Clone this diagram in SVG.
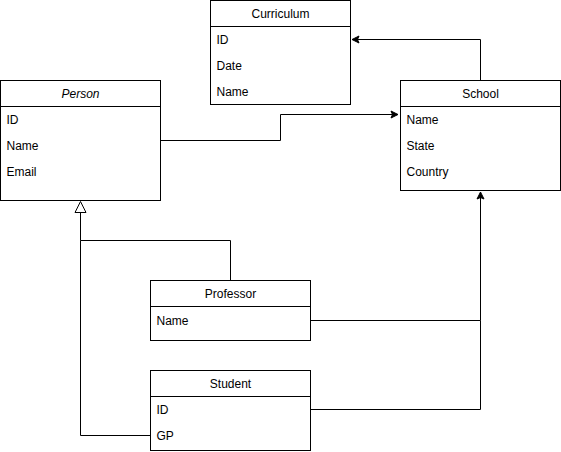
<svg xmlns="http://www.w3.org/2000/svg" width="561" height="452" viewBox="0 0 561 452">
<style>
.box{fill:#fff;stroke:#000;stroke-width:1}
.sep{stroke:#000;stroke-width:1}
.t{font-family:"Liberation Sans",Arial,sans-serif;font-size:12px;fill:#000}
.h{text-anchor:middle}
.i{font-style:italic}
.e{fill:none;stroke:#000;stroke-width:1}
</style>
<defs>
<marker id="arr" markerUnits="userSpaceOnUse" markerWidth="10" markerHeight="10" viewBox="-8 -5 10 10" refX="0" refY="0" orient="auto">
<path d="M0,0 L-7,-3.5 L-5.5,0 L-7,3.5 Z" fill="#000" stroke="#000" stroke-width="1"/>
</marker>
</defs>
<g id="connectors">
<path class="e" d="M160.5,140.5 H280.5 V114.5 H398" marker-end="url(#arr)"/>
<path class="e" d="M480.5,80.5 V39.5 H352" marker-end="url(#arr)"/>
<path class="e" d="M230.5,280.5 V240.5 H80.5 V212.5"/>
<path class="e" d="M150.5,435.5 H80.5 V240.5"/>
<polygon points="80.5,201.5 75,212.5 86,212.5" fill="#fff" stroke="#000" stroke-width="1"/>
<path class="e" d="M310.5,320.5 H480.5 V192" marker-end="url(#arr)"/>
<path class="e" d="M310.5,409.5 H480.5 V320.5"/>
</g>
<g id="curriculum">
<rect class="box" x="210.5" y="0.5" width="140" height="104"/>
<line class="sep" x1="210.5" y1="26.5" x2="350.5" y2="26.5"/>
<text class="t h" x="280.5" y="17.5">Curriculum</text>
<text class="t" x="216.5" y="44">ID</text>
<text class="t" x="216.5" y="70">Date</text>
<text class="t" x="216.5" y="96">Name</text>
</g>
<g id="person">
<rect class="box" x="0.5" y="80.5" width="160" height="120"/>
<line class="sep" x1="0.5" y1="106.5" x2="160.5" y2="106.5"/>
<text class="t h i" x="80.5" y="97.5">Person</text>
<text class="t" x="6.5" y="123.5">ID</text>
<text class="t" x="6.5" y="149.5">Name</text>
<text class="t" x="6.5" y="175.5">Email</text>
</g>
<g id="school">
<rect class="box" x="400.5" y="80.5" width="160" height="110"/>
<line class="sep" x1="400.5" y1="106.5" x2="560.5" y2="106.5"/>
<text class="t h" x="480.5" y="97.5">School</text>
<text class="t" x="406.5" y="123.5">Name</text>
<text class="t" x="406.5" y="149.5">State</text>
<text class="t" x="406.5" y="175.5">Country</text>
</g>
<g id="professor">
<rect class="box" x="150.5" y="280.5" width="160" height="60"/>
<line class="sep" x1="150.5" y1="306.5" x2="310.5" y2="306.5"/>
<text class="t h" x="230.5" y="297.5">Professor</text>
<text class="t" x="156.5" y="324.5">Name</text>
</g>
<g id="student">
<rect class="box" x="150.5" y="370.5" width="160" height="80"/>
<line class="sep" x1="150.5" y1="396.5" x2="310.5" y2="396.5"/>
<text class="t h" x="230.5" y="387.5">Student</text>
<text class="t" x="156.5" y="413.5">ID</text>
<text class="t" x="156.5" y="439.5">GP</text>
</g>
</svg>
